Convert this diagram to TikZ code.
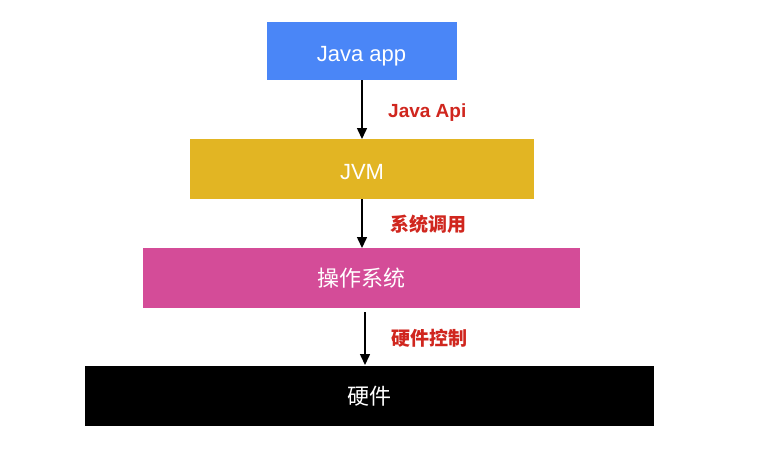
\documentclass[tikz,border=0pt]{standalone}
\usepackage{fontspec}
\setmainfont{Liberation Sans}
\newfontfamily\cjk{Noto Sans CJK SC}
\usetikzlibrary{arrows.meta}
\definecolor{appblue}{RGB}{74,134,247}
\definecolor{jvmgold}{RGB}{226,181,35}
\definecolor{ospink}{RGB}{212,76,152}
\definecolor{labred}{RGB}{208,38,30}
\tikzset{
  layer/.style={rectangle, inner sep=0pt, text=white, font=\fontsize{22}{26}\selectfont, text height=20pt, text depth=0pt},
  cjklayer/.style={layer, text height=17pt, text depth=0pt},
  lab/.style={anchor=west, inner sep=0pt, text=labred, font=\fontsize{19}{22}\selectfont\bfseries},
  conn/.style={draw=black, line width=1.5pt, -{Triangle[width=10pt,length=11pt]}},
}
\begin{document}
\begin{tikzpicture}[x=1pt,y=-1pt]
\useasboundingbox[fill=white] (0,0) rectangle (757,450);
\node[layer, fill=appblue, minimum width=190pt, minimum height=58pt] (app) at (361.5,51) {Java app};
\node[layer, fill=jvmgold, minimum width=344pt, minimum height=60pt] (jvm) at (362,169) {JVM};
\node[cjklayer, fill=ospink, minimum width=437pt, minimum height=60pt] (os) at (361.5,278) {\cjk 操作系统};
\node[cjklayer, fill=black, minimum width=569pt, minimum height=60pt] (hw) at (369.5,396) {\cjk 硬件};
\coordinate (a1s) at (362,80);
\coordinate (a1e) at (362,139);
\coordinate (a2s) at (362,199);
\coordinate (a2e) at (362,248);
\coordinate (a3s) at (365,312);
\coordinate (a3e) at (365,365);
\draw[conn] (a1s) -- (a1e);
\draw[conn] (a2s) -- (a2e);
\draw[conn] (a3s) -- (a3e);
\node[lab] (l1) at (388,113) {Java Api};
\node[lab] (l2) at (390,224) {\cjk 系统调用};
\node[lab] (l3) at (391,338) {\cjk 硬件控制};
\end{tikzpicture}
\end{document}
